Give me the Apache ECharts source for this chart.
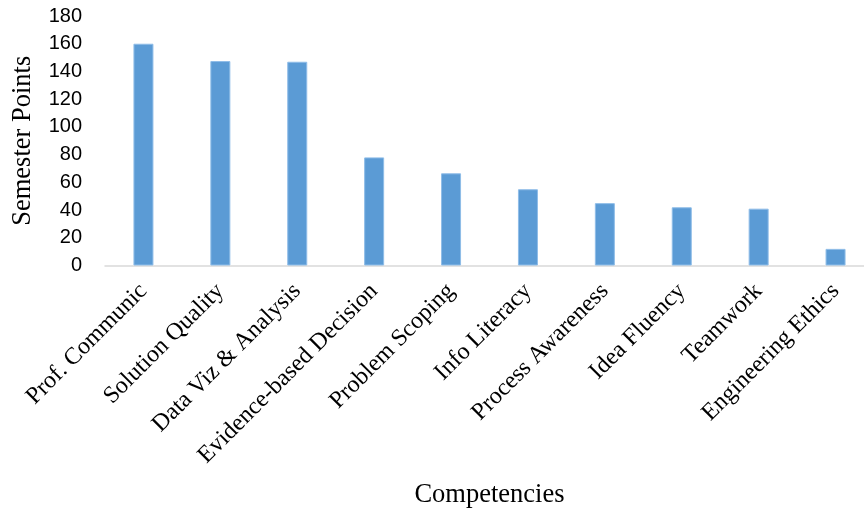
<!DOCTYPE html>
<html>
<head>
<meta charset="utf-8">
<script src="https://cdn.jsdelivr.net/npm/echarts@6/dist/echarts.min.js"></script>
<style>
	html, body { margin: 0; padding: 0; background: #fff; }
	#chart { width: 864px; height: 510px; }
</style>
</head>
<body>
<div id="chart"></div>
<script>
	// 能力类别
	const competencies = ['Prof. Communic', 'Solution Quality', 'Data Viz & Analysis', 'Evidence-based Decision',
		'Problem Scoping', 'Info Literacy', 'Process Awareness', 'Idea Fluency', 'Teamwork', 'Engineering Ethics']
	// 学期得分
	const semesterPoints = [160, 147.5, 147, 78, 66.5, 55, 45, 42, 41, 12]
	const yTicks = { min: 0, max: 180, interval: 20 }

	const chart = echarts.init(document.getElementById('chart'))
	const option = {
		animation: false,
		grid: {
			left: 105,
			top: 16,
			width: 769,
			height: 249.5,
			outerBoundsMode: 'none',
			containLabel: false
		},
		xAxis: {
			type: 'category',
			data: competencies,
			name: 'Competencies',
			nameLocation: 'middle',
			nameGap: 216,
			nameTextStyle: {
				fontFamily: 'Liberation Serif',
				fontSize: 26.5,
				color: '#000'
			},
			axisLine: {
				lineStyle: { color: '#d9d9d9', width: 1.5 }
			},
			axisTick: { show: false },
			axisLabel: {
				interval: 0,
				rotate: 45,
				margin: 22,
				fontFamily: 'Liberation Serif',
				fontSize: 24,
				color: '#000'
			}
		},
		yAxis: {
			type: 'value',
			min: yTicks.min,
			max: yTicks.max,
			interval: yTicks.interval,
			name: 'Semester Points',
			nameLocation: 'middle',
			nameGap: 68,
			nameTextStyle: {
				fontFamily: 'Liberation Serif',
				fontSize: 26.5,
				color: '#000'
			},
			axisLine: { show: false },
			axisTick: { show: false },
			splitLine: { show: false },
			axisLabel: {
				margin: 23,
				fontFamily: 'Liberation Sans',
				fontSize: 20,
				color: '#000'
			}
		},
		series: [{
			type: 'bar',
			data: semesterPoints,
			barWidth: 20,
			itemStyle: {
				color: '#5b9bd5',
				borderColor: '#8fbde8',
				borderWidth: 1
			}
		}]
	}
	chart.setOption(option)
</script>
</body>
</html>
